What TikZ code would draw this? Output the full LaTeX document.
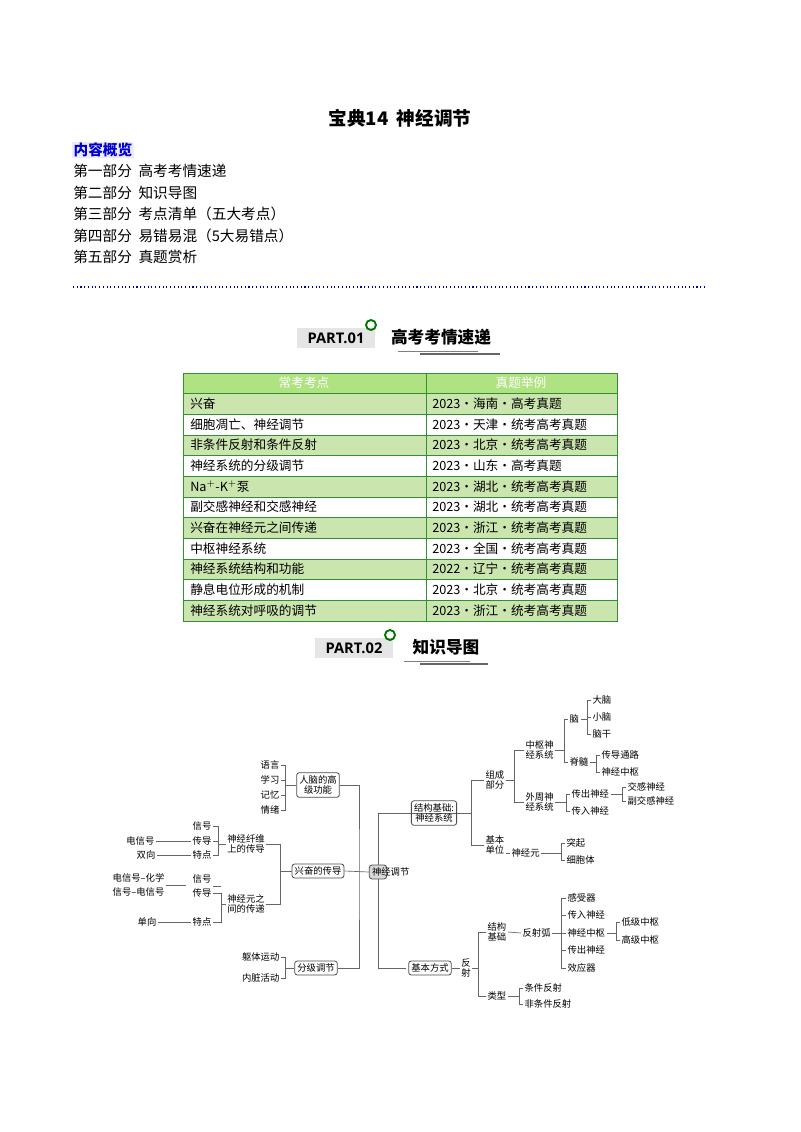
\documentclass[tikz,border=0pt]{standalone}
\usepackage{fontspec}
\setmainfont{Noto Sans CJK SC}
\newfontfamily\partfont{Open Sans}
\begin{document}
\begin{tikzpicture}[x=0.75pt,y=-0.75pt,
  t/.style={font=\fontsize{7}{8}\selectfont,inner sep=1pt,align=center},
  tw/.style={t,anchor=west},
  te/.style={t,anchor=east},
  mbox/.style={t,draw=black!70,rounded corners=2pt,inner sep=2pt,line width=0.6pt},
  ln/.style={draw=black!60,line width=0.5pt},
  body/.style={font=\fontsize{11}{13}\selectfont,anchor=west,inner sep=0pt},
  tb/.style={font=\fontsize{9.5}{11}\selectfont,anchor=west,inner sep=0pt}]
\useasboundingbox (0,0) rectangle (800,1132);
\fill[white] (0,0) rectangle (800,1132);
% title
\node[font=\fontsize{14}{16}\selectfont\bfseries] (title) at (400,118) {宝典14\ \ 神经调节};
\node[body,font=\fontsize{11}{13}\selectfont\bfseries,text=blue!80!black,fill=blue!8,inner sep=1pt] (ov) at (72,150) {内容概览};
\node[body] (p1) at (73,171) {第一部分\ \ 高考考情速递};
\node[body] (p2) at (73,193) {第二部分\ \ 知识导图};
\node[body] (p3) at (73,214) {第三部分\ \ 考点清单（五大考点）};
\node[body] (p4) at (73,236) {第四部分\ \ 易错易混（5大易错点）};
\node[body] (p5) at (73,257) {第五部分\ \ 真题赏析};
\draw[blue!60!black,dotted,line width=0.8pt] (73,287) -- (706,287);
% PART.01
\node[fill=black!10,font=\partfont\bfseries\fontsize{11}{12}\selectfont,minimum width=59pt,minimum height=15pt,inner sep=0pt] (pa1) at (336,338) {PART.01};
\draw[green!45!black,line width=1.4pt] (371,325) circle (5);
\node[font=\fontsize{12.5}{14}\selectfont\bfseries] (h1) at (441,337) {高考考情速递};
\draw[black!50,line width=0.6pt] (398,351) -- (478,351);
\draw[black!60,line width=0.8pt] (420,354) -- (500,354);
% table
\def\rh{20.67}
\fill[green!45!black!70!lime!60] (183,373) rectangle (617,393.67);
\fill[green!55!black!50!lime!50] (183,373) rectangle (617,393.67);
\foreach \i in {1,3,5,7,9,11} {\fill[green!40!black!20!white!85!lime] (183,373+\i*\rh) rectangle (617,373+\i*\rh+\rh);}
\draw[green!45!black!80,line width=0.6pt] (183,373) rectangle (617,621);
\foreach \i in {1,...,11} {\draw[green!45!black!80,line width=0.5pt] (183,373+\i*\rh) -- (617,373+\i*\rh);}
\draw[green!45!black!80,line width=0.5pt] (426,373) -- (426,621);
\node[tb,anchor=center,text=white] (th1) at (304,383) {常考考点};
\node[tb,anchor=center,text=white] (th2) at (521,383) {真题举例};
\foreach \a/\b [count=\i] in {兴奋/2023·海南·高考真题,细胞凋亡、神经调节/2023·天津·统考高考真题,非条件反射和条件反射/2023·北京·统考高考真题,神经系统的分级调节/2023·山东·高考真题,{Na$^{+}$-K$^{+}$泵}/2023·湖北·统考高考真题,副交感神经和交感神经/2023·湖北·统考高考真题,兴奋在神经元之间传递/2023·浙江·统考高考真题,中枢神经系统/2023·全国·统考高考真题,神经系统结构和功能/2022·辽宁·统考高考真题,静息电位形成的机制/2023·北京·统考高考真题,神经系统对呼吸的调节/2023·浙江·统考高考真题}
{\node[tb] (ra\i) at (190,383+\i*\rh) {\a}; \node[tb] (rb\i) at (432,383+\i*\rh) {\b};}
% PART.02
\node[fill=black!10,font=\partfont\bfseries\fontsize{11}{12}\selectfont,minimum width=59pt,minimum height=15pt,inner sep=0pt] (pa2) at (354,648) {PART.02};
\draw[green!45!black,line width=1.4pt] (390,635) circle (5);
\node[font=\fontsize{12.5}{14}\selectfont\bfseries] (h2) at (446,647) {知识导图};
\draw[black!50,line width=0.6pt] (404,661) -- (470,661);
\draw[black!60,line width=0.8pt] (420,664) -- (488,664);
% mind map center
\node[mbox,fill=black!15,text width=9pt,inner sep=2pt] (C) at (378,872) {神经调节};
% left side
\node[mbox] (L1) at (318,785) {人脑的高\\级功能};
\node[mbox] (L2) at (318,871) {兴奋的传导};
\node[mbox] (L3) at (316,968) {分级调节};
\coordinate (CL) at (359,872);
\draw[ln] (L1.east) -| (CL) |- (L3.east);
\draw[ln] (L2.east) -- (C.west);
\draw[ln] (C.north) |- (460,813);
\draw[ln] (C.south) |- (406,968);
\foreach \n/\s/\y in {a/语言/765,b/学习/780,c/记忆/795,d/情绪/810}
 {\node[te] (L1\n) at (281,\y) {\s}; \draw[ln] (L1\n.east) -- ++(4,0) |- (L1.west);}
\node[t] (F1) at (246,844) {神经纤维\\上的传导};
\node[t] (F2) at (246,904) {神经元之\\间的传递};
\draw[ln] (F1.east) -- ++(14,0) |- (L2.west);
\draw[ln] (F2.east) -- ++(14,0) |- (L2.west);
\node[te] (s1) at (213,826) {信号};
\node[te] (s2) at (213,841) {传导};
\node[te] (s3) at (213,855) {特点};
\foreach \n in {s1,s2,s3} {\draw[ln] (\n.east) -- ++(5,0) |- (F1.west);}
\node[te] (e1) at (156,841) {电信号};
\node[te] (e2) at (157,855) {双向};
\draw[ln] (e1.east) -- (s2.west); \draw[ln] (e2.east) -- (s3.west);
\node[te] (s4) at (213,879) {信号};
\node[te] (s5) at (213,893) {传导};
\node[te] (s6) at (213,922) {特点};
\foreach \n in {s5,s6} {\draw[ln] (\n.east) -- ++(8,0) |- (F2.west);}
\draw[ln] (s4.east) ++(0,7) -- ++(8,0);
\node[te] (e3) at (166,878) {电信号–化学};
\node[te] (e4) at (166,892) {信号–电信号};
\node[te] (e5) at (158,922) {单向};
\draw[ln] (e3.east) ++(0,7) -- ++(20,0);
\draw[ln] (e5.east) -- (s6.west);
\node[te] (m1) at (281,957) {躯体运动};
\node[te] (m2) at (281,978) {内脏活动};
\foreach \n in {m1,m2} {\draw[ln] (\n.east) -- ++(4,0) |- (L3.west);}
% right side top
\node[mbox] (R1) at (434,813) {结构基础:\\神经系统};
\node[tw] (A1) at (484,780) {组成\\部分};
\node[tw] (A2) at (484,845) {基本\\单位};
\foreach \n in {A1,A2} {\draw[ln] (\n.west) -- ++(-13,0) |- (R1.east);}
\node[tw] (B1) at (524,750) {中枢神\\经系统};
\node[tw] (B2) at (524,802) {外周神\\经系统};
\foreach \n in {B1,B2} {\draw[ln] (\n.west) -- ++(-10,0) |- (A1.east);}
\node[tw] (D1) at (568,719) {脑};
\node[tw] (D2) at (568,762) {脊髓};
\foreach \n in {D1,D2} {\draw[ln] (\n.west) -- ++(-4,0) |- (B1.east);}
\foreach \n/\s/\y in {a/大脑/700,b/小脑/717,c/脑干/734}
 {\node[tw] (E\n) at (591,\y) {\s}; \draw[ln] (E\n.west) -- ++(-4,0) |- (D1.east);}
\foreach \n/\s/\y in {a/传导通路/755,b/神经中枢/772}
 {\node[tw] (G\n) at (600,\y) {\s}; \draw[ln] (G\n.west) -- ++(-4,0) |- (D2.east);}
\node[tw] (H1) at (570,794) {传出神经};
\node[tw] (H2) at (570,811) {传入神经};
\foreach \n in {H1,H2} {\draw[ln] (\n.west) -- ++(-4,0) |- (B2.east);}
\foreach \n/\s/\y in {a/交感神经/787,b/副交感神经/801}
 {\node[tw] (K\n) at (626,\y) {\s}; \draw[ln] (K\n.west) -- ++(-4,0) |- (H1.east);}
\node[tw] (N) at (510,853) {神经元};
\draw[ln] (A2.east) ++(0,8) -- (N.west);
\foreach \n/\s/\y in {a/突起/843,b/细胞体/860}
 {\node[tw] (P\n) at (565,\y) {\s}; \draw[ln] (P\n.west) -- ++(-4,0) |- (N.east);}
% right side bottom
\node[mbox] (R2) at (430,968) {基本方式};
\node[t] (RF) at (466,968) {反\\射};
\draw[ln] (R2.east) -- (RF.west);
\node[tw] (S1) at (486,932) {结构\\基础};
\node[tw] (S2) at (486,996) {类型};
\foreach \n in {S1,S2} {\draw[ln] (\n.west) -- ++(-8,0) |- (RF.east);}
\node[tw] (Q) at (521,933) {反射弧};
\draw[ln] (S1.east) -- (Q.west);
\foreach \n/\s/\y in {a/感受器/898,b/传入神经/915,c/神经中枢/933,d/传出神经/950,e/效应器/968}
 {\node[tw] (U\n) at (566,\y) {\s}; \draw[ln] (U\n.west) -- ++(-5,0) |- (Q.east);}
\foreach \n/\s/\y in {a/低级中枢/922,b/高级中枢/940}
 {\node[tw] (V\n) at (620,\y) {\s}; \draw[ln] (V\n.west) -- ++(-4,0) |- (Uc.east);}
\foreach \n/\s/\y in {a/条件反射/988,b/非条件反射/1004}
 {\node[tw] (W\n) at (523,\y) {\s}; \draw[ln] (W\n.west) -- ++(-4,0) |- (S2.east);}
\end{tikzpicture}
\end{document}
